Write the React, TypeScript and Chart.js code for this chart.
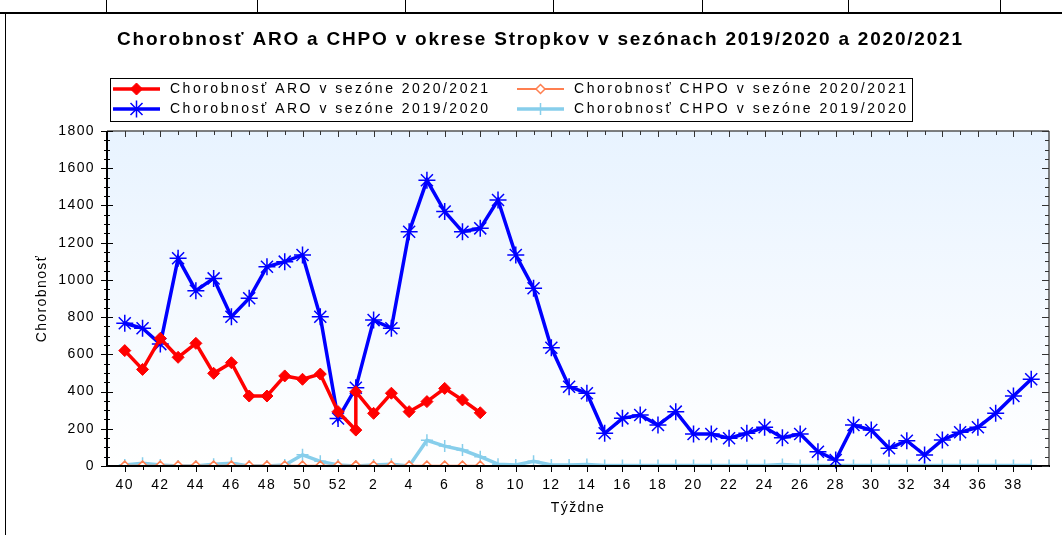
import { useEffect, useRef } from 'react';
import { Chart, registerables } from 'chart.js';
import { drawPoint } from 'chart.js/helpers';

Chart.register(...registerables);

// ---- data ----
const axisWeeks = [40, 41, 42, 43, 44, 45, 46, 47, 48, 49, 50, 51, 52, 1, 2, 3, 4, 5, 6, 7, 8, 9, 10, 11, 12, 13, 14, 15, 16, 17, 18, 19, 20, 21, 22, 23, 24, 25, 26, 27, 28, 29, 30, 31, 32, 33, 34, 35, 36, 37, 38, 39];

const weeks1920 = axisWeeks;
const aro1920 = [767, 740, 655, 1116, 942, 1008, 802, 901, 1071, 1098, 1134, 802, 255, 420, 784, 740, 1259, 1535, 1367, 1259, 1277, 1429, 1134, 955, 635, 426, 391, 176, 256, 274, 220, 292, 172, 172, 149, 176, 208, 152, 172, 77, 32, 220, 193, 95, 136, 59, 140, 181, 208, 283, 376, 466];
const chpo1920 = [5, 15, 5, 0, 0, 10, 15, 0, 0, 5, 60, 25, 5, 0, 5, 10, 0, 138, 107, 86, 50, 10, 5, 25, 5, 5, 8, 3, 3, 3, 3, 3, 3, 3, 3, 3, 3, 8, 3, 3, 3, 3, 3, 3, 3, 3, 3, 3, 3, 3, 3, 3];

const weeks2021 = [40, 41, 42, 43, 44, 45, 46, 47, 48, 49, 50, 51, 52, 53, 1, 2, 3, 4, 5, 6, 7, 8];
const aro2021 = [620, 519, 686, 584, 659, 498, 555, 376, 376, 484, 466, 494, 292, 193, 399, 283, 391, 292, 346, 417, 355, 286];
const chpo2021 = [2, 2, 2, 2, 2, 2, 2, 2, 2, 2, 2, 2, 2, 2, 2, 2, 2, 2, 2, 2, 2, 2];

const yMax = 1800;
const yStep = 200;

const chartTitle = 'Chorobnosť ARO a CHPO v okrese Stropkov v sezónach 2019/2020 a 2020/2021';
const xTitle = 'Týždne';
const yTitle = 'Chorobnosť';
const labelAro2021 = 'Chorobnosť ARO v sezóne 2020/2021';
const labelChpo2021 = 'Chorobnosť CHPO v sezóne 2020/2021';
const labelAro1920 = 'Chorobnosť ARO v sezóne 2019/2020';
const labelChpo1920 = 'Chorobnosť CHPO v sezóne 2019/2020';

// week 53 shares the axis slot of week 1
const weekPos = (w: number) => axisWeeks.indexOf(w === 53 ? 1 : w);
const toPoints = (weeks: number[], vals: number[]) => weeks.map((w, i) => ({ x: weekPos(w), y: vals[i] }));

const FONT = '"Liberation Sans", Arial, sans-serif';
const NARROW = '"Liberation Sans Narrow", "Arial Narrow", "Liberation Sans", sans-serif';

const decor = {
  id: 'decor',
  beforeDraw(chart: any) {
    const { ctx, chartArea: a } = chart;
    ctx.save();
    const g = ctx.createLinearGradient(0, a.top, 0, a.bottom);
    g.addColorStop(0, '#e8f3ff');
    g.addColorStop(1, '#ffffff');
    ctx.fillStyle = g;
    ctx.fillRect(a.left, a.top, a.right - a.left, a.bottom - a.top);
    ctx.restore();
    ctx.letterSpacing = '1.4px';
  },
  afterDraw(chart: any) {
    const { ctx, chartArea: a } = chart;
    const xs = chart.scales.x;
    const ys = chart.scales.y;
    ctx.save();
    ctx.letterSpacing = '0px';
    const line = (x1: number, y1: number, x2: number, y2: number) => {
      ctx.beginPath();
      ctx.moveTo(x1, y1);
      ctx.lineTo(x2, y2);
      ctx.stroke();
    };
    // frame
    ctx.strokeStyle = '#555';
    ctx.lineWidth = 1.5;
    line(a.left, a.top, a.right, a.top);
    line(a.right, a.top, a.right, a.bottom);
    ctx.strokeStyle = '#000';
    ctx.lineWidth = 2;
    line(a.left, a.top, a.left, a.bottom + 1);
    line(a.left - 1, a.bottom, a.right + 1, a.bottom);
    // y ticks
    ctx.lineWidth = 1;
    for (let v = 0; v <= yMax; v += 50) {
      const py = Math.round(ys.getPixelForValue(v)) + 0.5;
      const major = v % yStep === 0;
      ctx.strokeStyle = '#000';
      line(a.left - (major ? 6 : 3), py, a.left + (major ? 6 : 3), py);
      ctx.strokeStyle = '#333';
      line(a.right - (major ? 7 : 4), py, a.right, py);
    }
    // x ticks
    for (let i = 0; i < axisWeeks.length; i++) {
      const px = Math.round(xs.getPixelForValue(i)) + 0.5;
      const major = axisWeeks[i] % 2 === 0;
      ctx.strokeStyle = '#000';
      line(px, a.bottom, px, a.bottom + (major ? 6 : 4));
      ctx.strokeStyle = '#333';
      line(px, a.top, px, a.top + (major ? 6 : 4));
    }
    // title
    ctx.fillStyle = '#000';
    ctx.textBaseline = 'middle';
    ctx.textAlign = 'left';
    ctx.font = `bold 19px ${NARROW}`;
    const tw = ctx.measureText(chartTitle).width;
    const tls = (845 - tw) / (chartTitle.length - 1);
    ctx.letterSpacing = `${tls}px`;
    ctx.fillText(chartTitle, 117, 40);
    // legend
    ctx.letterSpacing = '0px';
    ctx.strokeStyle = '#000';
    ctx.lineWidth = 1;
    ctx.strokeRect(110.5, 78.5, 802, 43);
    const ds = chart.data.datasets;
    const pos = [
      [113, 89],
      [517, 89],
      [113, 109],
      [517, 109],
    ];
    ds.forEach((d: any, i: number) => {
      const [x0, y0] = pos[i];
      ctx.save();
      ctx.strokeStyle = d.borderColor;
      ctx.lineWidth = d.borderWidth;
      line(x0, y0, x0 + 47, y0);
      ctx.fillStyle = d.pointBackgroundColor;
      ctx.strokeStyle = d.pointBorderColor;
      ctx.lineWidth = d.pointBorderWidth;
      drawPoint(ctx, { pointStyle: d.pointStyle, radius: d.pointRadius, borderWidth: d.pointBorderWidth, rotation: 0 }, x0 + 23.5, y0);
      ctx.restore();
      ctx.font = `14px ${FONT}`;
      ctx.fillStyle = '#000';
      ctx.textBaseline = 'middle';
      ctx.textAlign = 'left';
      ctx.letterSpacing = '0px';
      const w = ctx.measureText(d.label).width;
      const target = i % 2 === 0 ? 318 : 332;
      ctx.letterSpacing = `${(target - w) / (d.label.length - 1)}px`;
      ctx.fillText(d.label, x0 + 57, y0);
      ctx.letterSpacing = '0px';
    });
    ctx.restore();
  },
};

export default function App() {
  const ref = useRef<HTMLCanvasElement | null>(null);
  useEffect(() => {
    if (!ref.current) return;
    const chart = new Chart(ref.current, {
      type: 'line',
      data: {
        datasets: [
          {
            label: labelAro2021,
            data: toPoints(weeks2021, aro2021),
            borderColor: '#ff0000',
            backgroundColor: '#ff0000',
            borderWidth: 3.5,
            pointStyle: 'rectRot',
            pointRadius: 6,
            pointBackgroundColor: '#ff0000',
            pointBorderColor: '#ff0000',
            pointBorderWidth: 1,
            tension: 0,
            clip: false,
          },
          {
            label: labelChpo2021,
            data: toPoints(weeks2021, chpo2021),
            borderColor: '#ff7f50',
            backgroundColor: '#ffffff',
            borderWidth: 2,
            pointStyle: 'rectRot',
            pointRadius: 4.5,
            pointBackgroundColor: '#ffffff',
            pointBorderColor: '#ff7f50',
            pointBorderWidth: 1.5,
            tension: 0,
          },
          {
            label: labelAro1920,
            data: toPoints(weeks1920, aro1920),
            borderColor: '#0000ff',
            backgroundColor: '#0000ff',
            borderWidth: 3.5,
            pointStyle: 'star',
            pointRadius: 8.5,
            pointBackgroundColor: '#0000ff',
            pointBorderColor: '#0000ff',
            pointBorderWidth: 1.5,
            tension: 0,
            clip: false,
          },
          {
            label: labelChpo1920,
            data: toPoints(weeks1920, chpo1920),
            borderColor: '#87ceeb',
            backgroundColor: '#87ceeb',
            borderWidth: 3.5,
            pointStyle: 'cross',
            pointRadius: 6,
            pointBackgroundColor: '#87ceeb',
            pointBorderColor: '#87ceeb',
            pointBorderWidth: 1.5,
            tension: 0,
          },
        ],
      },
      options: {
        animation: false,
        responsive: false,
        devicePixelRatio: 1,
        layout: { padding: { top: 131, left: 0, right: 13, bottom: 0 } },
        plugins: {
          legend: { display: false },
          title: { display: false },
          tooltip: { enabled: false },
        },
        scales: {
          x: {
            type: 'linear',
            min: -1,
            max: 52,
            border: { display: false },
            grid: { display: true, drawOnChartArea: false, drawTicks: true, tickLength: 8, color: 'rgba(0,0,0,0)' },
            ticks: {
              stepSize: 1,
              autoSkip: false,
              maxRotation: 0,
              minRotation: 0,
              padding: 3,
              color: '#000',
              font: { family: FONT, size: 14 },
              callback: (v: any) => {
                const w = axisWeeks[v as number];
                return w !== undefined && w % 2 === 0 ? String(w) : '';
              },
            },
            title: {
              display: true,
              text: xTitle,
              color: '#000',
              font: { family: FONT, size: 14 },
              padding: { top: 0, bottom: 18 },
            },
            afterFit: (s: any) => {
              s.height = 69;
            },
          },
          y: {
            min: 0,
            max: yMax,
            border: { display: false },
            grid: { display: true, drawOnChartArea: false, drawTicks: true, tickLength: 8, color: 'rgba(0,0,0,0)' },
            ticks: {
              stepSize: yStep,
              padding: 4,
              color: '#000',
              font: { family: FONT, size: 14 },
              callback: (v: any) => String(v),
            },
            title: {
              display: true,
              text: yTitle,
              color: '#000',
              font: { family: FONT, size: 14 },
              padding: { top: 34, bottom: 0 },
            },
            afterFit: (s: any) => {
              s.width = 107;
            },
          },
        },
      },
      plugins: [decor],
    } as any);
    return () => chart.destroy();
  }, []);

  const seps = [106, 257, 405, 553, 702, 848, 1000];
  return (
    <div style={{ position: 'absolute', left: 0, top: 0, width: 1062, height: 535, background: '#fff', overflow: 'hidden' }}>
      {seps.map((x) => (
        <div key={x} style={{ position: 'absolute', left: x, top: 0, width: 1, height: 13, background: '#000' }} />
      ))}
      <div style={{ position: 'absolute', left: 0, top: 12, width: 1062, height: 2, background: '#000' }} />
      <div style={{ position: 'absolute', left: 5, top: 14, width: 1, height: 521, background: '#000' }} />
      <canvas ref={ref} width={1062} height={535} style={{ position: 'absolute', left: 0, top: 0, width: 1062, height: 535 }} />
    </div>
  );
}
